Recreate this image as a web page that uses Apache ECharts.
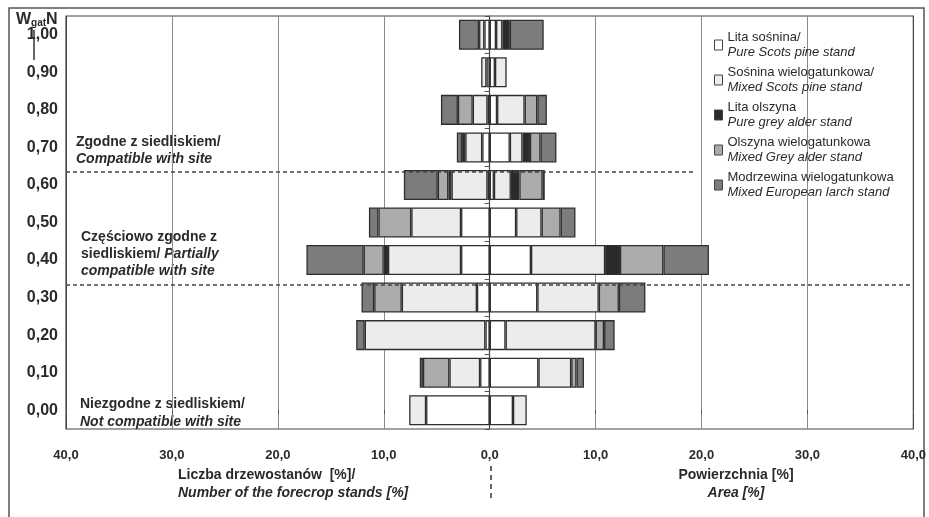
<!DOCTYPE html>
<html>
<head>
<meta charset="utf-8">
<script src="https://cdn.jsdelivr.net/npm/echarts@6/dist/echarts.min.js"></script>
<style>
html,body{margin:0;padding:0;background:#fff;}
#c{width:929px;height:517px;}
</style>
</head>
<body>
<div id="c"></div>
<script>
// Categories (W_gatN index), bottom to top
const categories = ['0,00','0,10','0,20','0,30','0,40','0,50','0,60','0,70','0,80','0,90','1,00'];
const namesPl = ['Lita sośnina/', 'Sośnina wielogatunkowa/', 'Lita olszyna', 'Olszyna wielogatunkowa', 'Modrzewina wielogatunkowa'];
const namesEn = ['Pure Scots pine stand', 'Mixed Scots pine stand', 'Pure grey alder stand', 'Mixed Grey alder stand', 'Mixed European larch stand'];

// Left side: number of forecrop stands [%]
const standsPureScots  = [6.0, 0.9, 0.4, 1.2, 2.7, 2.7, 0.2, 0.7, 0.2, 0.3, 0.5];
const standsMixedScots = [1.6, 2.9, 11.4, 7.1, 6.9, 4.7, 3.4, 1.6, 1.4, 0.5, 0.5];
const standsPureAlder  = [0, 0, 0, 0, 0.4, 0, 0.3, 0.3, 0, 0, 0];
const standsMixedAlder = [0, 2.5, 0, 2.6, 1.9, 3.1, 1.0, 0, 1.4, 0, 0];
const standsLarch      = [0, 0.3, 0.8, 1.2, 5.4, 0.9, 3.2, 0.5, 1.6, 0, 1.9];

// Right side: area [%]
const areaPureScots  = [2.2, 4.6, 1.5, 4.5, 3.9, 2.5, 0.4, 1.9, 0.7, 0.5, 0.6];
const areaMixedScots = [1.3, 3.1, 8.5, 5.8, 7.0, 2.4, 1.6, 1.2, 2.6, 1.1, 0.6];
const areaPureAlder  = [0, 0, 0, 0, 1.4, 0, 0.8, 0.7, 0, 0, 0.7];
const areaMixedAlder = [0, 0.5, 0.8, 1.9, 4.1, 1.8, 2.2, 1.0, 1.2, 0, 0];
const areaLarch      = [0, 0.7, 1.0, 2.5, 4.3, 1.4, 0.2, 1.5, 0.9, 0, 3.2];

// Site compatibility thresholds (drawn as dashed lines)
const thresholdHigh = 0.635;
const thresholdLow = 0.335;
const thresholdHighEnd = 19.3;

const xTicks = [-40, 40, 10];

const colors = ['#ffffff', '#ececec', '#2a2a2a', '#ababab', '#7c7c7c'];
const standsData = [standsPureScots, standsMixedScots, standsPureAlder, standsMixedAlder, standsLarch];
const areaData = [areaPureScots, areaMixedScots, areaPureAlder, areaMixedAlder, areaLarch];

const chart = echarts.init(document.getElementById('c'), null, {renderer: 'canvas'});
const TXT = '#2a2a2a';
const FONT = '"Liberation Sans", Arial, sans-serif';

function barStyle(i) {
  return {color: colors[i], borderColor: '#2e2e2e', borderWidth: 1.3};
}

const series = [];
for (let i = 0; i < 5; i++) {
  series.push({
    type: 'bar', name: namesPl[i], stack: 'all',
    barCategoryGap: '20%',
    data: standsData[i].map(v => v === 0 ? null : -v),
    itemStyle: barStyle(i), z: 3
  });
}
for (let i = 0; i < 5; i++) {
  series.push({
    type: 'bar', name: namesPl[i], stack: 'all',
    barCategoryGap: '20%',
    data: areaData[i].map(v => v === 0 ? null : v),
    itemStyle: barStyle(i), z: 3
  });
}
series.push({
  type: 'line', yAxisIndex: 1, data: [], silent: true, z: 5,
  markLine: {
    silent: true, symbol: ['none', 'none'], label: {show: false},
    lineStyle: {type: [4, 3], color: '#444', width: 1.5},
    data: [
      [{coord: [xTicks[0], thresholdHigh]}, {coord: [thresholdHighEnd, thresholdHigh]}],
      [{coord: [xTicks[0], thresholdLow]}, {coord: [xTicks[1], thresholdLow]}]
    ]
  }
});

const option = {
  animation: false,
  backgroundColor: '#fff',
  textStyle: {fontFamily: FONT},
  grid: {left: 66, right: 12, top: 16, bottom: 88, show: true, borderColor: '#444', borderWidth: 1.2},
  legend: {
    orient: 'vertical', left: 709, top: 26, itemGap: 7,
    itemWidth: 8, itemHeight: 10, icon: 'rect',
    data: namesPl,
    itemStyle: {borderWidth: 1, borderColor: '#444'},
    formatter: name => {
      const i = namesPl.indexOf(name);
      return '{a|' + name + '}\n{b|' + namesEn[i] + '}';
    },
    textStyle: {
      color: TXT, fontFamily: FONT,
      rich: {
        a: {fontSize: 13, lineHeight: 15, color: TXT, fontFamily: FONT},
        b: {fontSize: 13, lineHeight: 15, color: TXT, fontStyle: 'italic', fontFamily: FONT}
      }
    }
  },
  xAxis: {
    type: 'value', min: xTicks[0], max: xTicks[1], interval: xTicks[2],
    axisLine: {show: false},
    axisTick: {show: true, length: 4, lineStyle: {color: '#555'}},
    axisLabel: {
      margin: 20, color: TXT, fontWeight: 'bold', fontSize: 13, fontFamily: FONT,
      formatter: v => Math.abs(v).toFixed(1).replace('.', ',')
    },
    splitLine: {show: true, lineStyle: {color: ['#444','#8a8a8a','#8a8a8a','#8a8a8a','#333','#8a8a8a','#8a8a8a','#8a8a8a','#444'], width: 1}}
  },
  yAxis: [{
    type: 'category', data: categories,
    axisLine: {show: true, lineStyle: {color: '#444', width: 1.2}},
    axisTick: {show: true, length: 5, lineStyle: {color: '#555'}},
    axisLabel: {margin: 8, color: TXT, fontWeight: 'bold', fontSize: 16, fontFamily: FONT},
    splitLine: {show: false}
  }, {
    type: 'value', min: -0.05, max: 1.05, show: false, splitLine: {show: false}
  }],
  series: series,
  graphic: [
    {type: 'rect', shape: {x: 9, y: 8, width: 915, height: 530}, style: {fill: 'none', stroke: '#555', lineWidth: 1.5}, silent: true},
    {type: 'text', left: 16, top: 12, style: {
      text: '{w|W}{s|gat}{w|N}', rich: {
        w: {fontSize: 16, fontWeight: 'bold', fill: TXT, fontFamily: FONT, verticalAlign: 'bottom'},
        s: {fontSize: 10, fontWeight: 'bold', fill: TXT, fontFamily: FONT, padding: [6, 0, 0, 0], verticalAlign: 'bottom'}
      }}},
    {type: 'line', shape: {x1: 34, y1: 30, x2: 34, y2: 60}, style: {stroke: '#333', lineWidth: 1.5}},
    {type: 'text', x: 76, y: 135, style: {text: 'Zgodne z siedliskiem/', font: 'bold 14px ' + FONT, fill: TXT}},
    {type: 'text', x: 76, y: 152, style: {text: 'Compatible with site', font: 'italic bold 14px ' + FONT, fill: TXT}},
    {type: 'text', x: 81, y: 230, style: {text: 'Częściowo zgodne z', font: 'bold 14px ' + FONT, fill: TXT}},
    {type: 'text', x: 81, y: 247, style: {
      text: '{n|siedliskiem/ }{i|Partially}', rich: {
        n: {font: 'bold 14px ' + FONT, fill: TXT},
        i: {font: 'italic bold 14px ' + FONT, fill: TXT}
      }}},
    {type: 'text', x: 81, y: 264, style: {text: 'compatible with site', font: 'italic bold 14px ' + FONT, fill: TXT}},
    {type: 'text', x: 80, y: 397, style: {text: 'Niezgodne z siedliskiem/', font: 'bold 14px ' + FONT, fill: TXT}},
    {type: 'text', x: 80, y: 415, style: {text: 'Not compatible with site', font: 'italic bold 14px ' + FONT, fill: TXT}},
    {type: 'text', x: 178, y: 468, style: {text: 'Liczba drzewostanów  [%]/', font: 'bold 14px ' + FONT, fill: TXT}},
    {type: 'text', x: 178, y: 486, style: {text: 'Number of the forecrop stands [%]', font: 'italic bold 14px ' + FONT, fill: TXT}},
    {type: 'text', x: 736, y: 468, style: {text: 'Powierzchnia [%]', font: 'bold 14px ' + FONT, fill: TXT, align: 'center'}},
    {type: 'text', x: 736, y: 486, style: {text: 'Area [%]', font: 'italic bold 14px ' + FONT, fill: TXT, align: 'center'}},
    {type: 'line', shape: {x1: 491, y1: 466, x2: 491, y2: 500}, style: {stroke: '#333', lineWidth: 1.5, lineDash: [5, 4]}}
  ]
};
chart.setOption(option);
</script>
</body>
</html>
